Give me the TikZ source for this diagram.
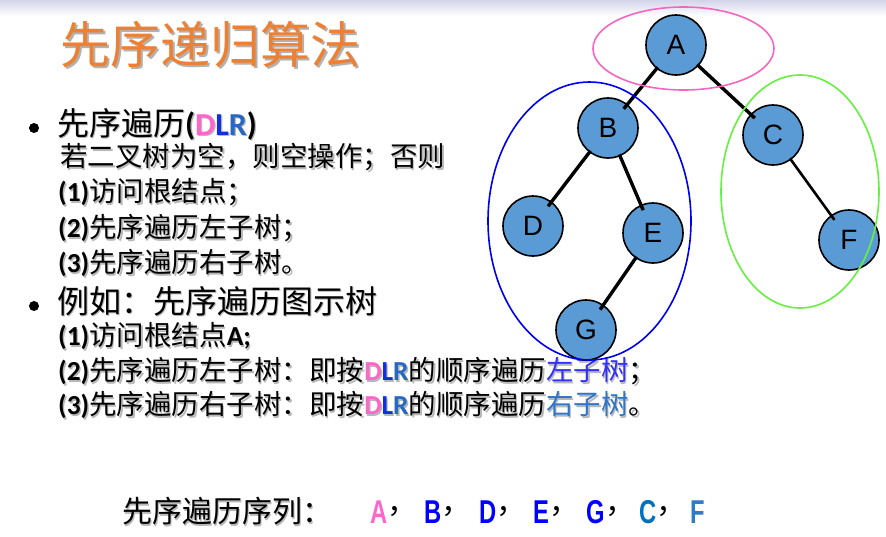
\documentclass[tikz,border=0pt]{standalone}
\usepackage{fontspec}
\newfontfamily\cjk{Noto Sans CJK SC}
\newfontfamily\lat{Carlito}
\newfontfamily\arial{Liberation Sans}
\newfontfamily\narrow[FakeStretch=0.72]{Liberation Sans}
\definecolor{titleor}{HTML}{EE8033}
\definecolor{pinkD}{HTML}{FF66CC}
\definecolor{blueL}{HTML}{1030D8}
\definecolor{blueR}{HTML}{2868C0}
\definecolor{subL}{HTML}{3030F8}
\definecolor{subR}{HTML}{2F75C8}
\definecolor{seqB}{HTML}{0000FF}
\definecolor{seqC}{HTML}{0070C0}
\definecolor{seqF}{HTML}{2E7BC8}
\definecolor{nodefill}{HTML}{5B9BD5}
\definecolor{ellpink}{HTML}{F466C0}
\definecolor{ellblue}{HTML}{0000F0}
\definecolor{ellgreen}{HTML}{66F040}
\definecolor{bandtop}{HTML}{D4D4EA}
\newif\ifshmode
\newcommand\cc[2]{{\ifshmode\else\color{#1}\fi#2}}
\newcommand\sh[1]{\makebox[0pt][l]{\shmodetrue\color{black!28}\hspace{1.3pt}\raisebox{-1.3pt}{#1}}#1}
\newcommand\shT[1]{\makebox[0pt][l]{\color{black!30}\hspace{2pt}\raisebox{-2pt}{#1}}#1}
\tikzset{
  big/.style={anchor=west, inner sep=0pt, font=\fontsize{32}{36}\selectfont\cjk},
  sub/.style={anchor=west, inner sep=0pt, font=\fontsize{27.5}{32}\selectfont\cjk},
  tnode/.style={circle, minimum size=60pt, inner sep=0pt, fill=nodefill, draw=black, line width=1.6pt, font=\fontsize{28}{30}\selectfont\arial},
  tedge/.style={line width=3.4pt, black, shorten <=-2pt, shorten >=-6pt},
  bul/.style={circle, fill=black, minimum size=10pt, inner sep=0pt},
  seq/.style={anchor=west, inner sep=0pt, font=\fontsize{33}{36}\selectfont\narrow\bfseries},
  seqc/.style={anchor=west, inner sep=0pt, font=\fontsize{30}{36}\selectfont\cjk}
}
\begin{document}
\begin{tikzpicture}[x=1pt,y=-1pt]
\useasboundingbox (0,0) rectangle (886,536);
\fill[white] (0,0) rectangle (886,536);
\shade[top color=bandtop, bottom color=white] (0,0) rectangle (886,16);

% title
\node[anchor=west, inner sep=0pt, text=titleor, font=\fontsize{50}{54}\selectfont\cjk] (title) at (60,45) {\shT{先序递归算法}};

% bullets and text
\node[bul] (b1) at (34,128) {};
\node[big] (l1) at (57,125) {\sh{先序遍历{\lat\bfseries(\cc{pinkD}{D}\cc{blueL}{L}\cc{blueR}{R})}}};
\node[sub] (l2) at (60,158) {\sh{若二叉树为空，则空操作；否则}};
\node[sub] (l3) at (58,193) {\sh{{\lat\bfseries(1)}访问根结点；}};
\node[sub] (l4) at (58,229) {\sh{{\lat\bfseries(2)}先序遍历左子树；}};
\node[sub] (l5) at (58,264) {\sh{{\lat\bfseries(3)}先序遍历右子树。}};
\node[bul] (b2) at (34,306) {};
\node[big] (l6) at (57,302) {\sh{例如：先序遍历图示树}};
\node[sub] (l7) at (58,337) {\sh{{\lat\bfseries(1)}访问根结点{\lat\bfseries A;}}};
\node[sub] (l8) at (58,372) {\sh{{\lat\bfseries(2)}先序遍历左子树：即按{\lat\bfseries\cc{pinkD}{D}\cc{blueL}{L}\cc{blueR}{R}}的顺序遍历\cc{subL}{左子树}；}};
\node[sub] (l9) at (58,406) {\sh{{\lat\bfseries(3)}先序遍历右子树：即按{\lat\bfseries\cc{pinkD}{D}\cc{blueL}{L}\cc{blueR}{R}}的顺序遍历\cc{subR}{右子树}。}};

% sequence line
\node[seqc] (sq) at (122,512) {\sh{先序遍历序列：}};
\node[seq, text=pinkD] (sA) at (370,512) {A};
\node[seqc] (cA) at (sA.east) {，};
\node[seq, text=seqB] (sB) at (424,512) {B};
\node[seqc] (cB) at (sB.east) {，};
\node[seq, text=seqB] (sD) at (479,512) {D};
\node[seqc] (cD) at (sD.east) {，};
\node[seq, text=seqB] (sE) at (533,512) {E};
\node[seqc] (cE) at (sE.east) {，};
\node[seq, text=seqB] (sG) at (586,512) {G};
\node[seqc] (cG) at (sG.east) {，};
\node[seq, text=seqC] (sC) at (639,512) {C};
\node[seqc] (cC) at (sC.east) {，};
\node[seq, text=seqF] (sF) at (690,512) {F};

% tree
\node[tnode] (A) at (676,45) {A};
\node[tnode] (B) at (608,128) {B};
\node[tnode] (C) at (773,135) {C};
\node[tnode] (D) at (533,226) {D};
\node[tnode] (E) at (653,233) {E};
\node[tnode] (F) at (849,240) {F};
\node[tnode] (G) at (586,330) {G};
\draw[tedge] (A) -- (B);
\draw[tedge] (A) -- (C);
\draw[tedge] (B) -- (D);
\draw[tedge] (B) -- (E);
\draw[tedge] (E) -- (G);
\draw[tedge, line width=2.6pt] (C) -- (F);

% ellipses
\draw[ellpink, line width=1.6pt] (683.5,48.5) ellipse [x radius=90.5, y radius=41.5];
\draw[ellblue, line width=1.6pt] (589.5,221) ellipse [x radius=101.5, y radius=139];
\draw[ellgreen, line width=1.6pt] (800,191.5) ellipse [x radius=79, y radius=116.5];
\end{tikzpicture}
\end{document}
